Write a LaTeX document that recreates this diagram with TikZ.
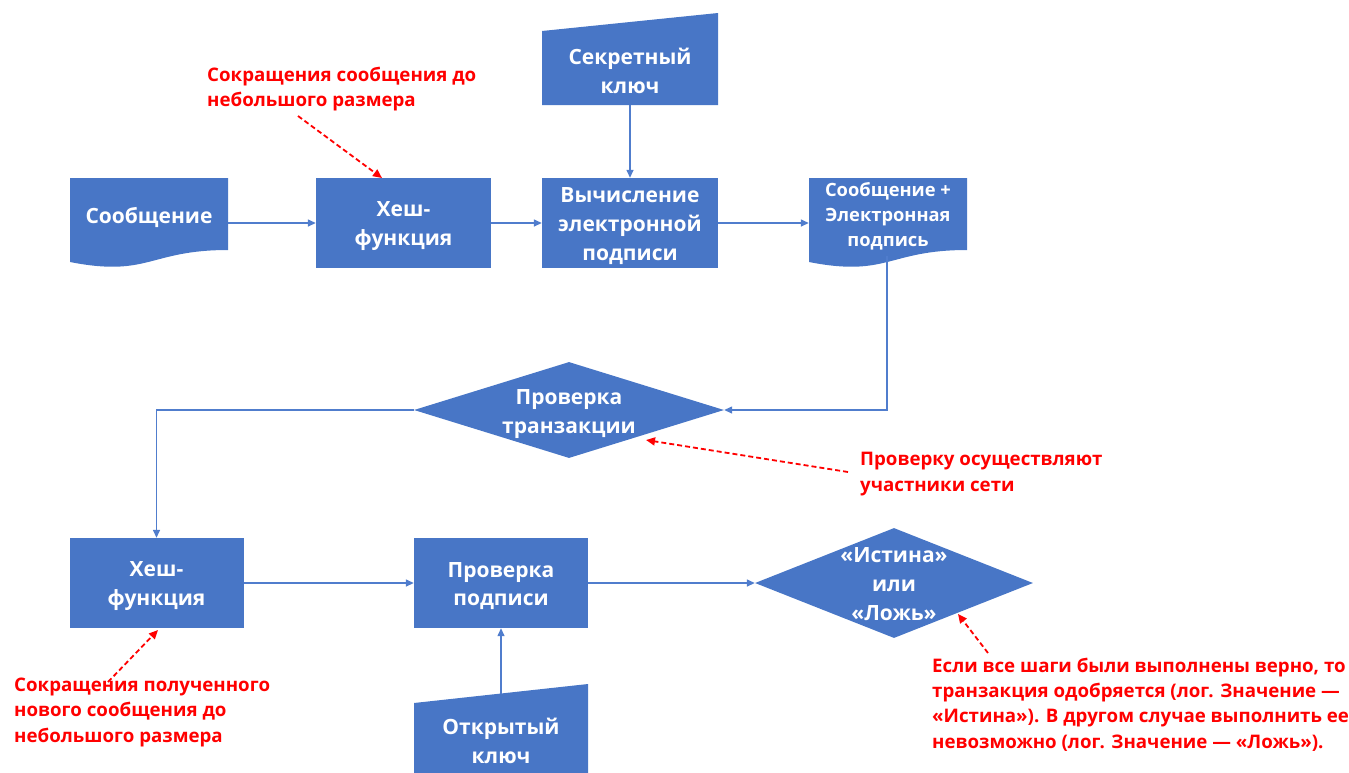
\documentclass[tikz,border=0pt]{standalone}
\usepackage{fontspec}
\setmainfont{Open Sans}
\usetikzlibrary{arrows.meta,shapes.geometric,calc}
\definecolor{boxblue}{RGB}{72,118,198}
\definecolor{lineblue}{RGB}{80,125,205}
\definecolor{annred}{RGB}{255,0,0}
\tikzset{
  fillshape/.style={fill=boxblue,draw=none},
  procbox/.style={fillshape,rectangle,inner sep=0pt},
  dec/.style={fillshape,diamond,inner sep=0pt},
  anchorbox/.style={rectangle,draw=none,inner sep=0pt},
  boxtext/.style={text=white,font=\bfseries\fontsize{21}{28.8}\selectfont,align=center,inner sep=0pt},
  smalltext/.style={text=white,font=\bfseries\fontsize{18.3}{25}\selectfont,align=center,inner sep=0pt},
  conn/.style={draw=lineblue,line width=1.4pt,-{Triangle[length=8pt,width=7pt]}},
  note/.style={text=annred,font=\bfseries\fontsize{18.7}{25.2}\selectfont,align=left,inner sep=0pt,anchor=base west},
  notearrow/.style={draw=annred,line width=1.8pt,dash pattern=on 5pt off 3pt,-{Triangle[length=9pt,width=8pt]}},
}
\begin{document}
\begin{tikzpicture}[x=1pt,y=-1pt]
\useasboundingbox (0,0) rectangle (1349,772);

% --- top row ---
% Secret key (manual input)
\fill[boxblue] (542,31) -- (718,13) -- (718,105) -- (542,105) -- cycle;
\node[anchorbox,minimum width=176pt,minimum height=74pt] (skey) at (630,68) {};
\node[boxtext] (skeyt) at (630,71) {Секретный\\ключ};

% Message (document)
\fill[boxblue] (70,178) -- (228,178) -- (228,250) .. controls (149,250) and (149,277.5) .. (70,262) -- cycle;
\node[anchorbox,minimum width=158pt,minimum height=72pt] (msg) at (149,214) {};
\node[boxtext] (msgt) at (149,217) {Сообщение};

\node[procbox,minimum width=175pt,minimum height=90pt] (hash1) at (403.5,223) {};
\node[boxtext] (hash1t) at (403.5,226) {Хеш-\\функция};

\node[procbox,minimum width=176pt,minimum height=90pt] (calc) at (630,223) {};
\node[boxtext] (calct) at (630,226) {Вычисление\\электронной\\подписи};

% Message + signature (document)
\fill[boxblue] (809,178) -- (967,178) -- (967,250) .. controls (888,250) and (888,277.5) .. (809,262) -- cycle;
\node[anchorbox,minimum width=158pt,minimum height=72pt] (msgsig) at (888,214) {};
\node[smalltext] (msgsigt) at (888,216) {Сообщение +\\Электронная\\подпись};
\coordinate (msgsigout) at (887,256);

% --- middle diamond ---
\node[dec,minimum width=310pt,minimum height=96pt] (check) at (569,410) {};
\node[boxtext] (checkt) at (569,414) {Проверка\\транзакции};

% --- bottom row ---
\node[procbox,minimum width=174pt,minimum height=90pt] (hash2) at (156.5,583) {};
\node[boxtext] (hash2t) at (156.5,586) {Хеш-\\функция};

\node[procbox,minimum width=174pt,minimum height=90pt] (vsig) at (501,583) {};
\node[boxtext] (vsigt) at (501,586) {Проверка\\подписи};

\node[dec,minimum width=278pt,minimum height=110pt] (res) at (894,583) {};
\node[boxtext] (rest) at (894,584) {«Истина»\\или\\«Ложь»};

% Public key (manual input)
\fill[boxblue] (414,703) -- (588,684) -- (588,780) -- (414,780) -- cycle;
\node[anchorbox,minimum width=174pt,minimum height=77pt] (pkey) at (501,741) {};
\node[boxtext] (pkeyt) at (501,741) {Открытый\\ключ};
\coordinate (pkeyout) at (501,693.5);

% --- connectors ---
\draw[conn] (msg.east |- hash1.west) -- (hash1.west);
\draw[conn] (hash1.east) -- (calc.west);
\draw[conn] (skey.south) -- (calc.north);
\draw[conn] (calc.east) -- (calc.east -| msgsig.west);
\draw[conn] (msgsigout) |- (check.east);
\draw[conn] (check.west) -| (hash2.north);
\draw[conn] (hash2.east) -- (vsig.west);
\draw[conn] (vsig.east) -- (res.west);
\draw[conn] (pkeyout) -- (vsig.south);

% --- annotations (anchored at the baseline of the last line) ---
\node[note] (n1) at (207,106.5) {Сокращения сообщения до\\небольшого размера};
\coordinate (n1a) at (298,116);
\coordinate (n1b) at (382,178);
\draw[notearrow] (n1a) -- (n1b);

\node[note] (n2) at (860,491) {Проверку осуществляют\\участники сети};
\coordinate (n2a) at (848,472);
\coordinate (n2b) at (646,440);
\draw[notearrow] (n2a) -- (n2b);

\node[note] (n3) at (14,742) {Сокращения полученного\\нового сообщения до\\небольшого размера};
\coordinate (n3a) at (108,682);
\coordinate (n3b) at (158,630);
\draw[notearrow] (n3a) -- (n3b);

\node[note] (n4) at (932,748) {Если все шаги были выполнены верно, то\\транзакция одобряется (лог. Значение —\\«Истина»). В другом случае выполнить ее\\невозможно (лог. Значение — «Ложь»).};
\coordinate (n4a) at (988,653);
\coordinate (n4b) at (958,614);
\draw[notearrow] (n4a) -- (n4b);
\end{tikzpicture}
\end{document}
